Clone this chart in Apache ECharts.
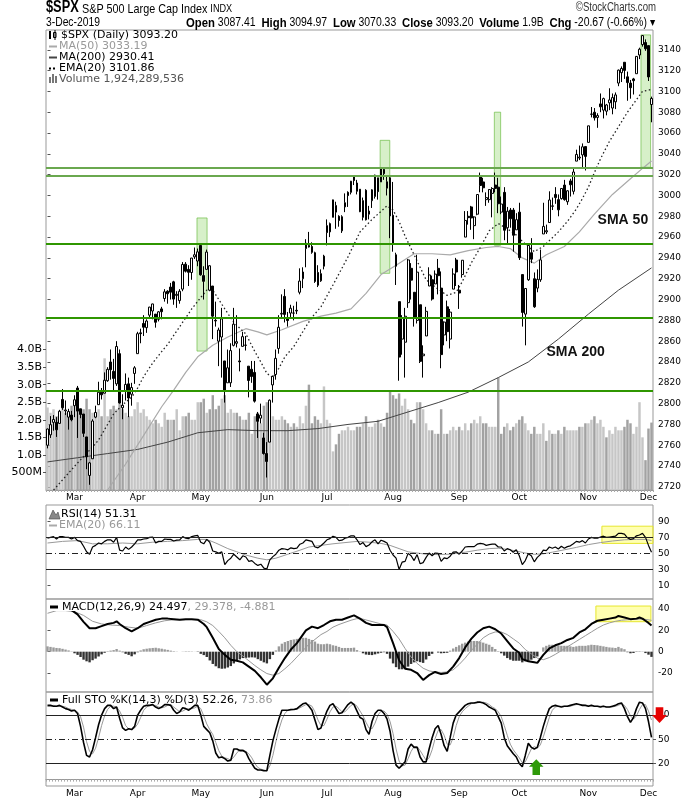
<!DOCTYPE html>
<html>
<head>
<meta charset="utf-8" />
<script src="https://cdn.jsdelivr.net/npm/echarts@6/dist/echarts.min.js"></script>
<style>html,body{margin:0;padding:0;background:#fff}</style>
</head>
<body>
<div id="main" style="width:700px;height:800px"></div>
<script type="text/javascript">
// trading days, 15-Feb-2019 .. 3-Dec-2019
const dates = [
  '2/15','2/19','2/20','2/21','2/22','2/25','2/26','2/27','2/28',
  '3/1','3/4','3/5','3/6','3/7','3/8','3/11','3/12','3/13','3/14','3/15','3/18','3/19','3/20','3/21','3/22','3/25','3/26','3/27','3/28','3/29',
  '4/1','4/2','4/3','4/4','4/5','4/8','4/9','4/10','4/11','4/12','4/15','4/16','4/17','4/18','4/22','4/23','4/24','4/25','4/26','4/29','4/30',
  '5/1','5/2','5/3','5/6','5/7','5/8','5/9','5/10','5/13','5/14','5/15','5/16','5/17','5/20','5/21','5/22','5/23','5/24','5/28','5/29','5/30','5/31',
  '6/3','6/4','6/5','6/6','6/7','6/10','6/11','6/12','6/13','6/14','6/17','6/18','6/19','6/20','6/21','6/24','6/25','6/26','6/27','6/28',
  '7/1','7/2','7/3','7/5','7/8','7/9','7/10','7/11','7/12','7/15','7/16','7/17','7/18','7/19','7/22','7/23','7/24','7/25','7/26','7/29','7/30','7/31',
  '8/1','8/2','8/5','8/6','8/7','8/8','8/9','8/12','8/13','8/14','8/15','8/16','8/19','8/20','8/21','8/22','8/23','8/26','8/27','8/28','8/29','8/30',
  '9/3','9/4','9/5','9/6','9/9','9/10','9/11','9/12','9/13','9/16','9/17','9/18','9/19','9/20','9/23','9/24','9/25','9/26','9/27','9/30',
  '10/1','10/2','10/3','10/4','10/7','10/8','10/9','10/10','10/11','10/14','10/15','10/16','10/17','10/18','10/21','10/22','10/23','10/24','10/25','10/28','10/29','10/30','10/31',
  '11/1','11/4','11/5','11/6','11/7','11/8','11/11','11/12','11/13','11/14','11/15','11/18','11/19','11/20','11/21','11/22','11/25','11/26','11/27','11/29',
  '12/2','12/3'
];
const monthStarts = ['3/1','4/1','5/1','6/3','7/1','8/1','9/3','10/1','11/1','12/2'];
const monthNames = ['Mar','Apr','May','Jun','Jul','Aug','Sep','Oct','Nov','Dec'];

const opens = [
  2760,2770,2782,2782,2781,2804,2793,2787,2789,
  2798,2815,2795,2790,2768,2731,2747,2787,2799,2811,2810,2822,2840,2831,2819,2848,2796,2812,2819,2809,2829,
  2848,2868,2877,2873,2885,2889,2886,2881,2891,2901,2908,2912,2917,2904,2899,2910,2934,2929,2926,2941,2937,
  2952,2923,2929,2909,2913,2880,2860,2864,2841,2820,2820,2856,2858,2841,2855,2856,2836,2833,2830,2790,2786,2767,
  2752,2763,2818,2828,2853,2886,2903,2882,2887,2887,2889,2907,2920,2949,2952,2951,2945,2926,2918,2932,
  2971,2965,2979,2984,2980,2966,2989,3003,3003,3018,3012,3006,2979,3005,2982,2995,2999,3017,3013,3025,3007,3017,
  2981,2943,2898,2862,2859,2897,2930,2907,2880,2895,2846,2865,2913,2919,2915,2930,2911,2866,2893,2862,2910,2938,
  2909,2924,2960,2980,2989,2971,2982,3019,3013,2996,2996,3002,3010,3008,2984,3003,2969,2986,2986,2967,
  2984,2924,2886,2919,2945,2920,2911,2919,2963,2965,2974,2990,3001,2996,2997,3010,2994,3014,3004,3033,3036,3039,3047,
  3051,3078,3080,3075,3088,3082,3081,3089,3084,3090,3108,3118,3128,3114,3108,3112,3117,3135,3145,3147,
  3144,3087.41
];
const highs = [
  2776,2788,2789,2787,2794,2814,2803,2795,2793,
  2808,2817,2795,2790,2768,2744,2785,2798,2821,2815,2830,2835,2852,2843,2860,2852,2809,2829,2825,2820,2836,
  2869,2872,2885,2881,2893,2896,2886,2889,2893,2910,2909,2916,2918,2908,2910,2936,2936,2933,2940,2950,2949,
  2954,2932,2948,2933,2913,2898,2873,2892,2841,2852,2858,2892,2885,2853,2869,2865,2836,2841,2841,2792,2800,2772,
  2763,2804,2827,2852,2885,2905,2910,2888,2895,2894,2898,2930,2931,2958,2965,2955,2946,2933,2929,2943,
  2977,2974,2996,2994,2981,2981,3002,3004,3014,3018,3015,3006,2998,3006,2990,3006,3020,3017,3027,3026,3018,3018,
  3013,2945,2898,2885,2892,2939,2935,2907,2943,2895,2856,2893,2931,2923,2928,2939,2927,2879,2899,2891,2930,2940,
  2914,2938,2985,2985,2990,2980,3001,3022,3017,3003,3006,3008,3022,3017,2999,3008,2989,2988,2988,2983,
  2993,2924,2911,2953,2959,2926,2929,2948,2993,2972,3004,2998,3008,3001,3007,3015,3005,3016,3027,3044,3048,3050,3047,
  3067,3085,3084,3079,3098,3094,3088,3103,3098,3099,3121,3124,3128,3119,3111,3113,3134,3142,3154,3150,
  3144,3094.97
];
const lows = [
  2757,2767,2774,2768,2781,2794,2789,2775,2783,
  2787,2767,2786,2768,2737,2722,2747,2786,2799,2804,2810,2821,2823,2812,2817,2800,2785,2803,2787,2798,2819,
  2848,2858,2865,2868,2882,2881,2873,2879,2881,2898,2896,2900,2895,2892,2896,2908,2926,2913,2919,2939,2932,
  2923,2900,2929,2908,2862,2874,2836,2825,2801,2820,2816,2855,2854,2831,2855,2851,2806,2820,2801,2767,2781,2751,
  2729,2763,2801,2823,2848,2883,2878,2874,2882,2880,2886,2905,2911,2931,2950,2944,2916,2912,2917,2929,
  2952,2960,2979,2968,2970,2964,2984,2989,3001,3010,3001,2984,2976,2976,2977,2988,2997,2996,3013,3015,3000,2959,
  2946,2914,2822,2847,2825,2892,2900,2874,2877,2839,2825,2865,2913,2899,2915,2905,2834,2856,2860,2853,2910,2913,
  2891,2921,2960,2972,2967,2958,2981,3003,3003,2990,2993,2979,3003,2983,2982,2957,2953,2969,2946,2967,
  2938,2874,2856,2918,2935,2892,2907,2917,2963,2963,2974,2986,2992,2980,2996,2995,2991,2999,3001,3033,3034,3026,3024,
  3051,3075,3072,3065,3080,3074,3077,3082,3078,3083,3105,3109,3112,3091,3093,3097,3117,3131,3143,3139,
  3110,3070.33
];
const closes = [
  2775.60,2779.76,2784.70,2774.88,2792.67,2796.11,2793.90,2792.38,2784.49,
  2803.69,2792.81,2789.65,2771.45,2748.93,2743.07,2783.30,2791.52,2810.92,2808.48,2822.48,2832.94,2832.57,2824.23,2854.88,2800.71,2798.36,2818.46,2805.37,2815.44,2834.40,
  2867.19,2867.24,2873.40,2879.39,2892.74,2895.77,2878.20,2888.21,2888.32,2907.41,2905.58,2907.06,2900.45,2905.03,2907.97,2933.68,2927.25,2926.17,2939.88,2943.03,2945.83,
  2923.73,2917.52,2945.64,2932.47,2884.05,2879.42,2870.72,2881.40,2811.87,2834.41,2850.96,2876.32,2859.53,2840.23,2864.36,2856.27,2822.24,2826.06,2802.39,2783.02,2788.86,2752.06,
  2744.45,2803.27,2826.15,2843.49,2873.34,2886.73,2885.72,2879.84,2891.64,2886.98,2889.67,2917.75,2926.46,2954.18,2950.46,2945.35,2917.38,2913.78,2924.92,2941.76,
  2964.33,2973.01,2995.82,2990.41,2975.95,2979.63,2993.07,2999.91,3013.77,3014.30,3004.04,2984.42,2995.11,2976.61,2985.03,3005.47,3019.56,3003.67,3025.86,3020.97,3013.18,2980.38,
  2953.56,2932.05,2844.74,2881.77,2883.98,2938.09,2918.65,2882.70,2926.32,2840.60,2847.60,2888.68,2923.65,2900.51,2924.43,2922.95,2847.11,2878.38,2869.16,2887.94,2924.58,2926.46,
  2906.27,2937.78,2976.00,2978.71,2978.43,2979.39,3000.93,3009.57,3007.39,2997.96,3005.70,3006.73,3006.79,2992.07,2991.78,2966.60,2984.87,2977.62,2961.79,2976.74,
  2940.25,2887.61,2910.63,2952.01,2938.79,2893.06,2919.40,2938.13,2970.27,2966.15,2995.68,2989.69,2997.95,2986.20,3006.72,2995.99,3004.52,3010.29,3022.55,3039.42,3036.89,3046.77,3037.56,
  3066.91,3078.27,3074.62,3076.78,3085.18,3093.08,3087.01,3091.84,3094.04,3096.63,3120.46,3122.03,3120.18,3108.46,3103.54,3110.29,3133.64,3140.52,3153.63,3140.98,
  3113.87,3093.20
];
// volume in billions of shares
const volumes = [
  2.35,2.2,2.3,2.1,2.2,2.4,2.2,2.1,2.4,
  2.5,2.4,2.2,2.3,2.6,2.3,2.2,2.2,2.3,2.1,3.75,2.1,2.3,2.4,2.3,2.6,2.3,2.2,2.1,2.1,2.3,
  2.5,2.2,2.3,2.1,2.0,1.9,2.0,1.9,1.8,2.2,2.0,2.0,2.0,2.3,1.7,2.1,2.1,2.2,2.0,2.0,2.5,
  2.5,2.6,2.2,2.3,2.7,2.3,2.4,2.6,2.7,2.2,2.3,2.2,2.2,2.1,2.0,2.0,2.2,1.6,2.1,2.2,1.9,2.4,
  2.5,2.4,2.1,2.0,2.0,2.1,2.0,1.9,1.8,1.9,1.8,2.1,1.9,2.4,3.0,1.9,2.1,2.0,1.9,2.95,
  2.0,1.9,1.1,1.3,1.6,1.7,1.7,1.8,1.7,1.7,1.8,1.8,1.9,2.1,1.8,1.8,1.9,2.0,1.9,1.8,2.2,2.8,
  2.7,2.6,2.75,2.4,2.6,2.3,2.0,1.9,2.5,2.5,2.3,1.9,1.7,1.7,1.6,1.6,2.3,1.6,1.6,1.7,1.8,1.7,
  1.8,1.7,1.9,1.7,1.9,2.0,1.9,2.1,1.9,1.9,1.8,1.8,1.8,3.2,1.6,1.8,1.9,1.7,1.8,1.9,
  2.0,2.1,1.9,1.7,1.6,1.8,1.6,1.6,1.9,1.4,1.7,1.6,1.6,1.7,1.6,1.8,1.7,1.7,1.7,1.7,1.8,1.8,1.9,
  1.9,2.0,2.1,1.9,2.0,1.8,1.5,1.7,1.6,1.8,1.7,1.7,1.8,2.0,1.9,1.6,1.8,2.5,1.5,0.85,
  1.75,1.92
];
// overlays as [bar index, value]
const ma50 = [[0,2655],[10,2688],[20,2717],[26,2742],[33,2774],[38,2797],[42,2813],[46,2830],[50,2845],[55,2856],[60,2864],[66,2872],[70,2869],[73,2866],[78,2871],[85,2879],[91,2884],[96,2887],[101,2891],[106,2906],[111,2924],[116,2933],[122,2944],[128,2944],[134,2943],[140,2947],[146,2950],[150,2951],[154,2949],[158,2940],[162,2935],[166,2943],[172,2951],[177,2965],[182,2982],[188,3001],[194,3016],[198,3026],[201,3033.19]];
const ma200 = [[0,2744],[10,2748],[20,2752],[30,2756],[40,2763],[50,2772],[60,2775],[70,2774],[80,2774],[90,2776],[100,2780],[110,2783],[120,2792],[130,2801],[140,2811],[150,2825],[160,2840],[170,2862],[180,2886],[190,2909],[201,2930.41]];
const ema20 = [[0,2712],[2,2717],[6,2730],[10,2743],[13,2752],[17,2765],[20,2780],[22,2790],[25,2799],[28,2806],[30,2815],[32,2826],[35,2839],[38,2850],[40,2857],[44,2874],[48,2891],[51,2902],[53,2909],[55,2909],[57,2900],[59,2891],[62,2878],[66,2867],[69,2850],[71,2840],[73,2829],[75,2825],[77,2834],[79,2845],[82,2855],[86,2874],[88,2883],[91,2893],[95,2914],[100,2941],[104,2965],[108,2977],[113,2990],[115,2986],[117,2975],[119,2961],[122,2943],[126,2919],[129,2912],[133,2904],[136,2907],[138,2917],[141,2935],[144,2950],[147,2966],[150,2973],[153,2968],[156,2962],[158,2956],[162,2946],[165,2951],[170,2965],[173,2975],[176,2987],[178,2997],[180,3008],[182,3022],[184,3035],[187,3052],[190,3066],[193,3080],[196,3092],[198,3100],[201,3101.86]];

const rsi = [
  69,70,71,68,71,71,70,70,68,70, 66,65,59,52,49,58,60,63,62,65,
  67,67,64,70,54,53,58,55,58,62, 67,67,68,68.5,70,70.5,63,65,65,68,
  67.5,67.5,65.5,66.5,67,71,69,68.5,71,72, 72.5,64,62,67.5,64,53,52,50,52,36,
  41,44,49,45.5,42,47,45.5,40,41,37.5, 35,36.5,31.5,30.5,42,46,49,54,56,55.5,
  54.5,57,56,56.5,61.5,63,67,66,65,58, 57,59.5,63,67,68.5,71.5,70,66,66.5,69,
  70,72,72,67,61,63.5,58.5,60.5,64.5,67, 62,66.5,65,63,54,48,44,30,39,40,
  50,47,41,48.5,37,38.5,45,50.5,47,50.5, 50,40,44.5,43.5,46.5,51.5,52,49,53,58,
  58.5,58.5,58.5,61.5,62.5,62,60,61,61.5,61.5, 58,58,53,56,54.5,51.5,54.5,47,36,41,
  49.5,47,39.5,45,48.5,54,53.5,58,56.5,58, 55.5,59,56.5,58.5,59.5,62,65,64,66,63,
  68,70,69,69,70.5,71.5,70,70.5,71,71.5, 75,75,74,69.5,67.5,68.5,72,73,75,70,
  60,51.31
];
const rsiEma = [[0,63],[5,65],[10,66],[15,62],[20,62],[25,63],[30,62],[35,64],[40,65],[45,66],[50,67.5],[53,67.5],[56,63],[60,56],[63,52],[66,48],[70,44],[73,42],[76,44],[80,49],[84,54],[87,58],[91,60],[95,62],[99,63.5],[103,65],[107,64],[111,62.5],[114,60],[117,56],[120,52],[123,50.5],[126,49],[130,48.5],[134,49],[139,51.5],[143,54],[147,56],[150,56.5],[153,55],[156,53],[159,50.5],[162,48.8],[165,49.5],[168,51.5],[172,54.5],[176,57.5],[180,61],[184,63.5],[188,65.5],[192,67],[196,67.5],[199,67.5],[201,66.11]];

const macd = [[0,42],[3,43],[6,42],[8,39],[10,35],[12,28],[14,22],[16,22],[18,24],[20,26],[22,27],[23,28.5],[24,26],[26,22],[28,19],[30,22],[32,26],[34,28],[36,30],[38,31],[40,31],[42,30.5],[44,30],[46,30.5],[48,30.5],[50,30],[52,26],[53,23],[55,13],[57,2.5],[59,-3],[61,-7.5],[63,-8.5],[65,-10],[67,-14],[69,-18],[71,-24],[73,-31],[75,-25],[77,-15],[79,-6],[81,2],[83,8],[85,16],[86,20],[88,23.5],[90,22],[92,25],[94,28.5],[96,30],[98,30],[100,32],[102,34],[104,31],[106,27],[108,25],[110,25],[112,25],[113,23],[115,8],[117,-8],[119,-16],[121,-17],[123,-20],[125,-26.5],[127,-22],[129,-19],[131,-21],[133,-20],[135,-14],[137,-6],[139,4],[141,12],[143,18],[145,22],[147,23.5],[149,21],[151,17],[153,10],[155,3],[157,-1],[158,-7],[160,-9],[162,-10],[163,-10.5],[165,-3],[167,3],[169,6],[171,8],[173,11],[175,13],[177,18],[179,21],[181,26],[183,29],[185,30],[187,31],[189,32],[190,33.5],[192,32],[194,30.5],[196,31],[197,32],[198,31],[199,29],[200,27],[201,24.497]];
const macdSignal = [[0,36],[3,38.5],[6,38.5],[9,37.5],[12,34],[15,28.5],[18,26],[21,25],[24,24.5],[27,23],[30,22],[33,24.5],[36,27],[39,29],[42,30],[45,30],[48,30.2],[51,30],[53,28],[55,24.5],[57,19],[59,13],[61,6],[63,0],[65,-4],[67,-8.5],[69,-13],[71,-17],[73,-20.5],[75,-22],[77,-20.5],[79,-16],[81,-11],[83,-5],[85,1],[87,7],[89,11.5],[91,16],[93,19],[95,23],[97,25.5],[99,27.5],[101,29.5],[103,31],[105,30.5],[107,29],[109,27.5],[111,26],[113,25],[115,19],[117,12],[119,3],[121,-5],[123,-11],[125,-15.5],[127,-18],[129,-19],[131,-19.5],[133,-19],[135,-17],[137,-12],[139,-6],[141,1],[143,7],[145,13],[147,16.5],[149,18.5],[151,18.5],[153,16],[155,12],[157,8],[159,2],[161,-2],[163,-6],[165,-7.5],[167,-5.5],[169,-2.5],[171,1],[173,4.5],[175,8],[177,11.5],[179,15],[181,18.5],[183,22],[185,25],[187,27],[189,28.5],[191,29.5],[193,30],[195,30.2],[197,30.5],[199,30.3],[201,29.378]];
const macdHist = [
  5,4.5,4,3.5,3.3,2.7,2,1.2,0.3,-1.5, -3,-5,-7.5,-9,-10,-8,-6.5,-4.5,-2.5,-1,
  0.5,1,1.5,2.5,1,-0.5,-2,-3,-4.3,-2.5, -0.5,1.2,2.3,2.8,3.2,3.5,3.7,3.2,2.8,2.2,
  1.7,1,0.5,0.2,0,0.2,0.4,0.4,0.3,0.1, -0.3,-2,-3.2,-5,-8.2,-11.5,-13.7,-15.5,-16,-15.8,
  -14.8,-13.5,-11,-8.5,-7.2,-6,-5.8,-5.5,-5.3,-5.5, -7,-8.5,-10,-11,-7,-3,1.2,5,7.5,9,
  10,11,11.5,12,12.5,13,13,12,11,9.5, 7.5,7,7,7.5,7,6,5.5,4.5,3.5,3.5,
  3.5,3.5,3.8,1.5,0.3,-1.5,-2.7,-3,-3.2,-2.5, -1.7,-1,-0.5,-2,-6.5,-11,-14.5,-16.5,-16.5,-16,
  -14,-11.5,-10,-9,-9.8,-10.5,-7.3,-4,-2,0, -0.8,-1.5,-1.3,-1,1,3,4.5,6,7.5,8.5,
  9.5,10,10,10,9.5,8.5,7.5,6.5,4.5,2.5, 0.5,-1.5,-3.7,-6,-7.5,-8.5,-8.5,-8.5,-10,-9,
  -8.5,-7.5,-6,-4.5,0,4,5.5,6.5,6.5,6.5, 6,5.5,5.5,5.5,5,4.5,5,5.5,5.5,5.5,
  6,6.5,6.3,6,5.5,5,4.5,4,3.8,3.5, 4.5,3.2,2.3,-0.5,-1.5,-1.2,-0.3,0.5,0.3,-1.3,
  -2.8,-4.881
];
const stoK = [
  92,92,91,91,92,90,88,87,85,86, 82,66,46,30,28,37,52,68,80,88,
  92,92,88,90,76,64,61,63,62,66, 80,86,91,92,92,93,90,88,90,93,
  93,92,86,82,84,89,88,86,89,92, 92,80,66,62,58,48,33,27,28,26,
  23,24,38,38,36,36,34,26,20,14, 12,12,11,11,30,48,62,75,86,86,
  86,87,87,88,91,94,95,91,86,74, 62,64,75,85,92,94,88,82,83,88,
  93,96,93,85,77,75,62,56,72,82, 86,86,82,75,60,36,18,14,18,22,
  38,44,40,40,28,22,22,38,52,63, 67,56,42,35,52,70,80,84,88,92,
  94,95,95,96,96,95,93,90,88,86, 78,70,52,42,37,32,28,20,16,30,
  45,40,38,40,52,66,78,88,91,92, 91,90,91,91,92,93,94,93,92,92,
  91,92,91,91,90,91,90,90,91,92, 94,95,88,78,71,77,88,96,95,88,
  72,52.26
];
const stoD = [
  91,91,92,91,91,91,90,88,87,86, 84,78,65,47,35,32,39,52,67,79,
  87,91,91,90,85,77,67,63,62,64, 69,77,86,90,92,92,92,90,89,90,
  92,93,90,87,84,85,87,88,88,89, 91,88,79,69,62,56,46,36,29,27,
  26,24,28,33,37,37,35,32,27,20, 15,13,12,11,17,30,47,62,74,82,
  86,86,87,87,89,91,93,93,91,84, 74,67,67,75,84,90,91,88,84,84,
  88,92,94,91,85,79,71,64,63,70, 80,85,85,81,72,57,38,23,17,18,
  26,35,41,41,36,30,24,27,37,51, 61,62,55,44,43,52,67,78,84,88,
  91,94,95,95,96,96,95,93,90,88, 84,78,67,55,44,37,32,27,21,22,
  30,38,41,39,43,53,65,77,86,90, 91,91,91,91,91,92,93,93,93,92,
  92,92,91,91,91,91,90,90,90,91, 92,94,92,87,79,75,79,87,93,93,
  85,73.86
];

const priceTicks = [2720,2740,2760,2780,2800,2820,2840,2860,2880,2900,2920,2940,2960,2980,3000,3020,3040,3060,3080,3100,3120,3140];
const volumeTicks = [0.5,1,1.5,2,2.5,3,3.5,4];
const rsiTicks = [10,30,50,70,90];
const macdTicks = [-20,0,20,40];
const stoTicks = [20,50,80];
const levels = [2812.3, 2882.2, 2953.4, 3019.1, 3026.5];

const FONT = 'DejaVu Sans';
const SANS = 'Liberation Sans';

const candles = opens.map((o, i) => [o, closes[i], lows[i], highs[i]]);
const volData = volumes.map((v, i) => ({
  value: v,
  itemStyle: { color: i > 0 && closes[i] < closes[i - 1] ? '#a2a2a2' : '#c6c6c6' }
}));
const histData = macdHist.map(v => ({ value: v, itemStyle: { color: v >= 0 ? '#9a9a9a' : '#333' } }));

function catAxis(gi, labels) {
  return {
    type: 'category', gridIndex: gi, data: dates, boundaryGap: true,
    axisLine: { show: labels, lineStyle: { color: '#999' } },
    axisTick: { show: labels, interval: 0, length: 2, lineStyle: { color: '#aaa' } },
    axisLabel: {
      show: labels, interval: (i, v) => monthStarts.indexOf(v) >= 0,
      formatter: v => monthNames[monthStarts.indexOf(v)] || '',
      fontSize: 9, fontFamily: FONT, color: '#000', margin: 3
    },
    splitLine: { show: false }
  };
}
function idxAxis(gi) {
  return { type: 'value', gridIndex: gi, min: -0.5, max: dates.length - 0.5, show: false };
}
function rightAxis(gi, min, max, ticks) {
  return {
    type: 'value', gridIndex: gi, position: 'right', min: min, max: max,
    axisLine: { show: false },
    axisTick: { show: true, length: 3, customValues: ticks, lineStyle: { color: '#555' } },
    axisLabel: { customValues: ticks, fontSize: 9, fontFamily: FONT, color: '#000', margin: 5, formatter: v => String(v) },
    splitLine: { show: false }
  };
}
const guide = (v, dash) => ({ yAxis: v, lineStyle: { color: '#222', width: 1, type: dash ? [6, 3, 1, 3] : 'solid' } });
const lineSeries = (xi, yi, data, style, z) => ({
  type: 'line', xAxisIndex: xi, yAxisIndex: yi, data: data, symbol: 'none',
  lineStyle: style, z: z || 3, silent: true
});

const txt = (x, y, text, color) => ({
  type: 'text', x: x, y: y, z: 100,
  style: { text: text, fill: color || '#000', fontSize: 11, fontFamily: FONT, verticalAlign: 'middle', align: 'left' }
});
// header texts use Liberation Sans squeezed horizontally to mimic a narrow face
const narrow = (x, y, sx, style) => ({
  type: 'text', x: x, y: y, z: 100, scaleX: sx,
  style: Object.assign({ fill: '#000', fontFamily: SANS, verticalAlign: 'middle', align: 'left' }, style)
});
const dash = (x, y, color, width, lineDash) => ({
  type: 'line', z: 100, shape: { x1: x, y1: y, x2: x + 8, y2: y },
  style: { stroke: color, lineWidth: width || 2, lineDash: lineDash || null }
});

const graphics = [
  narrow(46, 8, 0.8, { text: '$SPX', fontSize: 16, fontWeight: 'bold' }),
  narrow(82, 9, 0.83, { text: 'S&P 500 Large Cap Index {s|INDX}', fontSize: 13,
    rich: { s: { fontSize: 11, fontFamily: SANS, fill: '#000', color: '#000' } } }),
  narrow(656, 8, 0.8, { text: '\u00a9StockCharts.com', fill: '#333', fontSize: 12, align: 'right' }),
  narrow(46, 23, 0.86, { text: '3-Dec-2019', fontSize: 12 }),
  narrow(655, 23, 0.87, {
    text: '{b|Open} 3087.41  {b|High} 3094.97  {b|Low} 3070.33  {b|Close} 3093.20  {b|Volume} 1.9B  {b|Chg} -20.67 (-0.66%) \u25be',
    fontSize: 12, align: 'right',
    rich: { b: { fontSize: 13, fontWeight: 'bold', fontFamily: SANS, fill: '#000', color: '#000' } } }),

  // price panel legend
  { type: 'rect', z: 100, shape: { x: 49, y: 31, width: 2, height: 8 }, style: { fill: '#000' } },
  { type: 'rect', z: 100, shape: { x: 53.5, y: 32.5, width: 2.5, height: 5 }, style: { fill: '#fff', stroke: '#000', lineWidth: 1 } },
  { type: 'line', z: 100, shape: { x1: 55, y1: 30, x2: 55, y2: 40 }, style: { stroke: '#000', lineWidth: 1 } },
  txt(61, 35.5, '$SPX (Daily) 3093.20'),
  dash(49, 46.5, '#aaa'), txt(59, 46.5, 'MA(50) 3033.19', '#999'),
  dash(49, 57.5, '#444'), txt(59, 57.5, 'MA(200) 2930.41', '#000'),
  dash(49, 68.5, '#000', 2, [2, 2]), txt(59, 68.5, 'EMA(20) 3101.86', '#000'),
  { type: 'rect', z: 100, shape: { x: 49, y: 77, width: 2, height: 6 }, style: { fill: '#777' } },
  { type: 'rect', z: 100, shape: { x: 52, y: 74, width: 2, height: 9 }, style: { fill: '#777' } },
  { type: 'rect', z: 100, shape: { x: 55, y: 76, width: 2, height: 7 }, style: { fill: '#777' } },
  txt(59, 79, 'Volume 1,924,289,536', '#555'),

  // RSI legend
  { type: 'polygon', z: 100, shape: { points: [[49, 519], [53, 510], [56, 515], [58, 512], [60, 519]] }, style: { fill: '#888', stroke: '#444', lineWidth: 0.6 } },
  txt(61, 514.5, 'RSI(14) 51.31'),
  dash(49, 525.5, '#aaa'), txt(59, 525.5, 'EMA(20) 66.11', '#999'),

  // MACD legend
  { type: 'rect', z: 99, shape: { x: 47, y: 602, width: 236, height: 9 }, style: { fill: '#fff' } },
  dash(50, 607, '#000', 3),
  { type: 'text', x: 62, y: 607, z: 100, style: {
      text: 'MACD(12,26,9) 24.497{g|, 29.378, -4.881}', fill: '#000', fontSize: 11, fontFamily: FONT, verticalAlign: 'middle',
      rich: { g: { fill: '#999', color: '#999', fontSize: 11, fontFamily: FONT } } } },

  // STO legend
  dash(50, 700, '#000', 3),
  { type: 'text', x: 62, y: 700, z: 100, style: {
      text: 'Full STO %K(14,3) %D(3) 52.26,{g| 73.86}', fill: '#000', fontSize: 11, fontFamily: FONT, verticalAlign: 'middle',
      rich: { g: { fill: '#999', color: '#999', fontSize: 11, fontFamily: FONT } } } },

  // arrows
  { type: 'polygon', z: 100, shape: { points: [[655.7, 707.3], [663.3, 707.3], [663.3, 715], [667, 715], [659.5, 723], [652, 715], [655.7, 715]] }, style: { fill: '#e60000' } },
  { type: 'polygon', z: 100, shape: { points: [[536.3, 759.3], [543.5, 766.7], [540, 766.7], [540, 775], [532.5, 775], [532.5, 766.7], [529, 766.7]] }, style: { fill: '#2f9a0a' } }
];

const option = {
  animation: false,
  backgroundColor: '#fff',
  grid: [
    { left: 46, top: 30, width: 607, height: 460, show: true, borderColor: '#999', borderWidth: 1 },
    { left: 46, top: 505, width: 607, height: 94, show: true, borderColor: '#999', borderWidth: 1 },
    { left: 46, top: 599, width: 607, height: 93, show: true, borderColor: '#999', borderWidth: 1 },
    { left: 46, top: 692, width: 607, height: 94, show: true, borderColor: '#999', borderWidth: 1 }
  ],
  xAxis: [catAxis(0, true), idxAxis(0), catAxis(1, false), idxAxis(1), catAxis(2, false), idxAxis(2), catAxis(3, true)],
  yAxis: [
    rightAxis(0, 2717, 3159, priceTicks),
    {
      type: 'value', gridIndex: 0, position: 'left', min: 0, max: 13.1,
      axisLine: { show: false },
      axisTick: { show: true, length: 3, customValues: volumeTicks, lineStyle: { color: '#555' } },
      axisLabel: {
        customValues: volumeTicks, fontSize: 11, fontFamily: FONT, color: '#000', margin: 4,
        formatter: v => v < 1 ? Math.round(v * 1000) + 'M' : v.toFixed(1) + 'B'
      },
      splitLine: { show: false }
    },
    rightAxis(1, -7, 110.5, rsiTicks),
    rightAxis(2, -37.8, 49.4, macdTicks),
    rightAxis(3, -7.9, 108.6, stoTicks)
  ],
  graphic: graphics,
  series: [
    { name: 'Volume', type: 'bar', xAxisIndex: 0, yAxisIndex: 1, data: volData, barWidth: '82%', z: 1, silent: true },
    lineSeries(1, 0, ma200, { color: '#444', width: 1 }, 2),
    lineSeries(1, 0, ma50, { color: '#aaa', width: 1.2 }, 2),
    lineSeries(1, 0, ema20, { color: '#222', width: 1.3, type: [1.5, 2.5] }, 2),
    {
      name: '$SPX', type: 'candlestick', xAxisIndex: 0, yAxisIndex: 0, data: candles, barWidth: '78%', z: 3, silent: true,
      itemStyle: { color: '#fff', color0: '#000', borderColor: '#000', borderColor0: '#000', borderWidth: 1 }
    },
    {
      type: 'line', xAxisIndex: 1, yAxisIndex: 0, data: [], z: 4, silent: true,
      markLine: {
        silent: true, symbol: 'none', label: { show: false },
        data: levels.map(v => ({ yAxis: v, lineStyle: { color: v > 3000 ? '#6aa84f' : '#2f9600', width: 2, type: 'solid' } }))
      },
      markArea: {
        silent: true,
        itemStyle: { color: 'rgba(140,212,100,0.35)', borderColor: 'rgba(110,190,70,0.7)', borderWidth: 1 },
        data: [
          [{ xAxis: 49.75, yAxis: 2978.4 }, { xAxis: 53.1, yAxis: 2850.5 }],
          [{ xAxis: 110.7, yAxis: 3053 }, { xAxis: 113.9, yAxis: 2925.2 }],
          [{ xAxis: 148.7, yAxis: 3080 }, { xAxis: 150.8, yAxis: 2952.1 }],
          [{ xAxis: 197.5, yAxis: 3154.3 }, { xAxis: 200.7, yAxis: 3027.1 }]
        ]
      },
      markPoint: {
        silent: true, symbol: 'rect', symbolSize: 1, itemStyle: { color: 'rgba(0,0,0,0)' },
        label: { show: true, position: 'right', distance: 0, color: '#111', fontSize: 14, fontWeight: 'bold', fontFamily: SANS },
        data: [
          { coord: [182.9, 2976.4], label: { formatter: 'SMA 50' } },
          { coord: [165.9, 2849.5], label: { formatter: 'SMA 200' } }
        ]
      }
    },

    // RSI
    lineSeries(3, 2, rsiEma, { color: '#999', width: 1 }, 2),
    Object.assign(lineSeries(2, 2, rsi, { color: '#000', width: 1.2 }, 3), {
      markLine: { silent: true, symbol: 'none', label: { show: false }, data: [guide(70), guide(30), guide(50, true)] }
    }),
    {
      type: 'line', xAxisIndex: 3, yAxisIndex: 2, data: [], z: 4, silent: true,
      markArea: { silent: true, itemStyle: { color: 'rgba(255,255,60,0.4)', borderColor: '#e6e62e', borderWidth: 1 },
        data: [[{ xAxis: 184.5, yAxis: 84 }, { xAxis: 202.2, yAxis: 62.5 }]] }
    },

    // MACD
    { type: 'bar', xAxisIndex: 4, yAxisIndex: 3, data: histData, barWidth: '80%', z: 1, silent: true },
    lineSeries(5, 3, macdSignal, { color: '#999', width: 1 }, 2),
    lineSeries(5, 3, macd, { color: '#000', width: 2 }, 3),
    {
      type: 'line', xAxisIndex: 5, yAxisIndex: 3, data: [], z: 4, silent: true,
      markArea: { silent: true, itemStyle: { color: 'rgba(255,255,60,0.4)', borderColor: '#e6e62e', borderWidth: 1 },
        data: [[{ xAxis: 182.5, yAxis: 42.8 }, { xAxis: 200.8, yAxis: 28.1 }]] }
    },

    // Full stochastics
    lineSeries(6, 4, stoD, { color: '#999', width: 1 }, 2),
    Object.assign(lineSeries(6, 4, stoK, { color: '#000', width: 1.6 }, 3), {
      markLine: { silent: true, symbol: 'none', label: { show: false }, data: [guide(80), guide(20), guide(50, true)] }
    })
  ]
};

const chart = echarts.init(document.getElementById('main'));
chart.setOption(option);
</script>
</body>
</html>
